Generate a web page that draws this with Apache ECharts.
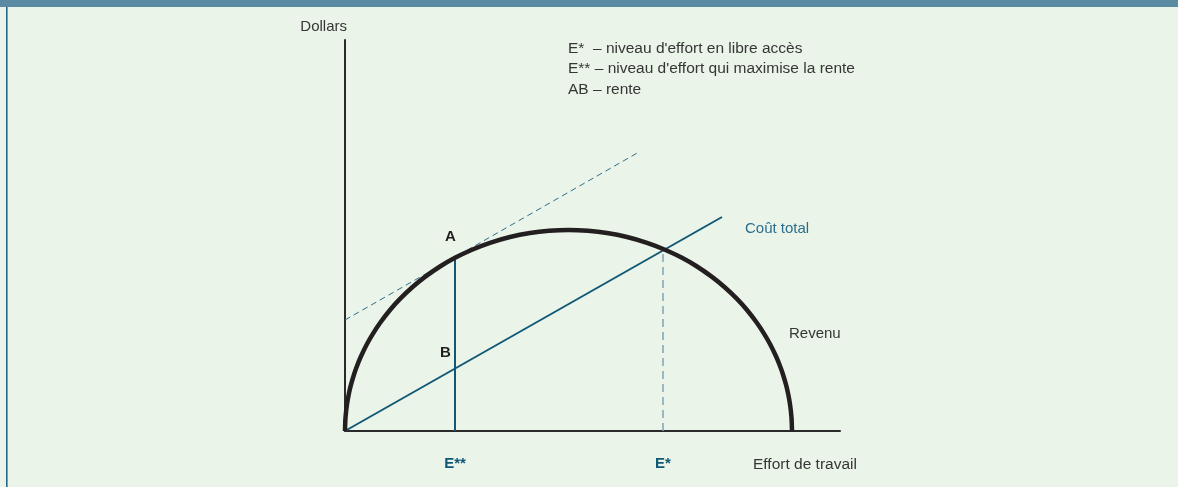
<!DOCTYPE html>
<html><head><meta charset="utf-8">
<script src="https://cdn.jsdelivr.net/npm/echarts@6/dist/echarts.min.js"></script>
<style>html,body{margin:0;padding:0;background:#EAF4E8;}#c{width:1178px;height:487px;}</style>
</head><body><div id="c"></div>
<script>
// Conceptual diagram; units = position along each axis (0..495 effort, 0..391 dollars)
const revenueX = [0, 0.5, 2, 4, 6, 9, 12, 16, 22, 28, 35, 45, 55, 67, 80, 95, 110, 127, 145, 165, 185, 204, 223.5,
                  243, 262, 282, 302, 320, 337, 352, 367, 380, 392, 402, 412, 419, 425, 431, 435, 438, 441, 443, 445, 446.5, 447];
const revenueY = [0, 13.4, 26.8, 37.9, 46.3, 56.5, 65.0, 74.7, 87.0, 97.4, 108.0, 121.0, 132.1, 143.5, 154.1, 164.5, 173.2, 181.3, 188.2, 194.0, 198.0, 200.2, 201,
                  200.2, 198.0, 194.0, 188.2, 181.3, 173.2, 164.5, 154.1, 143.5, 132.1, 121.0, 108.0, 97.4, 87.0, 74.7, 65.0, 56.5, 46.3, 37.9, 26.8, 13.4, 0];
const costX = [0, 377];
const costY = [0, 214];
const tangentX = [0, 294];
const tangentY = [111, 279];
const eStarStar = 110, eStarStarTop = 174;   // E** and point A
const eStar = 318, eStarTop = 182;           // E* (open access)
const effortTicks = [110, 318];
const effortTickLabels = ['E**', 'E*'];
const legendLines = ["E*  – niveau d'effort en libre accès", "E** – niveau d'effort qui maximise la rente", "AB – rente"];

const zip = (a, b) => a.map((v, i) => [v, b[i]]);
const FONT = '"Liberation Sans", Arial, sans-serif';
const TXT = '#363636';

const chart = echarts.init(document.getElementById('c'), null, {renderer: 'canvas'});
chart.setOption({
  backgroundColor: '#EAF4E8',
  animation: false,
  grid: {left: 345, top: 40, width: 495, height: 391},
  xAxis: {
    type: 'value', min: 0, max: 495,
    splitLine: {show: false},
    axisLine: {show: true, onZero: false, lineStyle: {color: '#2a2a2a', width: 2}},
    axisTick: {show: false},
    axisLabel: {
      show: true, customValues: effortTicks, margin: 25,
      formatter: v => effortTickLabels[effortTicks.indexOf(v)] || '',
      color: '#0F5876', fontWeight: 'bold', fontSize: 15, fontFamily: FONT
    }
  },
  yAxis: {
    type: 'value', min: 0, max: 391,
    splitLine: {show: false},
    axisLine: {show: true, onZero: false, lineStyle: {color: '#2a2a2a', width: 2}},
    axisTick: {show: false},
    axisLabel: {show: false}
  },
  series: [
    {type: 'line', data: zip(tangentX, tangentY), showSymbol: false, clip: false,
     lineStyle: {color: '#2E6E8C', width: 1, type: [6, 4]}, z: 2},
    {type: 'line', data: [[eStar, 0], [eStar, eStarTop]], showSymbol: false, clip: false,
     lineStyle: {color: '#7FA4B4', width: 1.5, type: [8, 5]}, z: 2},
    {type: 'line', data: [[eStarStar, 0], [eStarStar, eStarStarTop]], showSymbol: false, clip: false,
     lineStyle: {color: '#0F5876', width: 2}, z: 3},
    {type: 'line', data: zip(costX, costY), showSymbol: false, clip: false,
     lineStyle: {color: '#0F5876', width: 2}, z: 3},
    {type: 'line', data: zip(revenueX, revenueY), showSymbol: false, clip: false,
     smooth: 0.25,
     lineStyle: {color: '#231F20', width: 4.5, cap: 'butt', join: 'round'}, z: 4}
  ],
  graphic: [
    {type: 'rect', left: 0, top: 0, shape: {width: 1178, height: 7}, style: {fill: '#5B8AA3'}, z: 10},
    {type: 'rect', left: 6, top: 7, shape: {width: 1.6, height: 480}, style: {fill: '#236A86'}, z: 10},
    {type: 'text', right: 1178 - 347, top: 19, style: {text: 'Dollars', fill: TXT, font: '15px ' + FONT}},
    {type: 'text', left: 568, top: 38, style: {text: legendLines.join('\n'), fill: TXT, font: '15.5px ' + FONT, lineHeight: 20.5}},
    {type: 'text', left: 445, top: 229, style: {text: 'A', fill: '#231F20', font: 'bold 15px ' + FONT}},
    {type: 'text', left: 440, top: 345, style: {text: 'B', fill: '#231F20', font: 'bold 15px ' + FONT}},
    {type: 'text', left: 745, top: 221, style: {text: 'Coût total', fill: '#2B6E8C', font: '15px ' + FONT}},
    {type: 'text', left: 789, top: 326, style: {text: 'Revenu', fill: TXT, font: '15px ' + FONT}},
    {type: 'text', left: 753, top: 457, style: {text: 'Effort de travail', fill: TXT, font: '15.5px ' + FONT}}
  ]
});
</script></body></html>
